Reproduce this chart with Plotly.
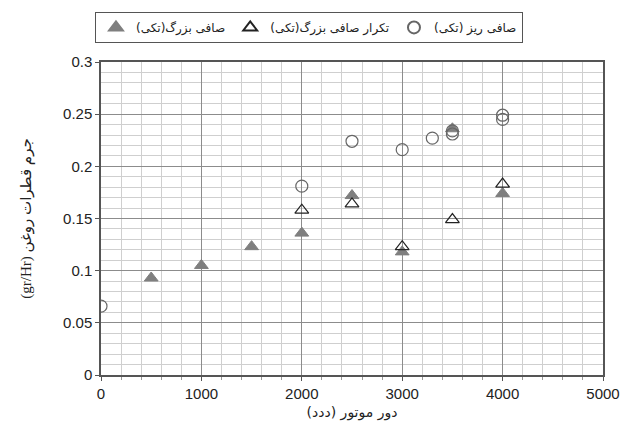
import plotly.graph_objects as go

# Data
big_x = [500, 1000, 1500, 2000, 2500, 3000, 3500, 4000]
big_y = [0.093, 0.105, 0.123, 0.136, 0.172, 0.118, 0.236, 0.174]

rep_x = [2000, 2500, 3000, 3500, 4000]
rep_y = [0.158, 0.164, 0.123, 0.149, 0.183]

fine_x = [0, 2000, 2500, 3000, 3300, 3500, 3500, 4000, 4000]
fine_y = [0.066, 0.181, 0.224, 0.216, 0.227, 0.231, 0.234, 0.245, 0.249]

RLE, PDF = "\u202b", "\u202c"

name_big = RLE + "صافی بزرگ(تکی)" + PDF
name_rep = RLE + "تکرار صافی بزرگ(تکی)" + PDF
name_fine = RLE + "صافی ریز (تکی)" + PDF

x_title = RLE + "دور موتور (ددد)" + PDF
y_title = RLE + "جرم قطرات روغن (gr/Hr)" + PDF

y_ticks = [0, 0.05, 0.1, 0.15, 0.2, 0.25, 0.3]
y_ticktext = ["0", "0.05", "0.1", "0.15", "0.2", "0.25", "0.3"]
x_ticks = [0, 1000, 2000, 3000, 4000, 5000]

fig = go.Figure()
fig.add_trace(go.Scatter(
    x=big_x, y=big_y, mode="markers", name=name_big,
    marker=dict(symbol="triangle-up", size=12, color="#7f7f7f",
                line=dict(color="#7f7f7f", width=1))))
fig.add_trace(go.Scatter(
    x=rep_x, y=rep_y, mode="markers", name=name_rep,
    marker=dict(symbol="triangle-up-open", size=12, color="#222222",
                line=dict(width=1.2))))
fig.add_trace(go.Scatter(
    x=fine_x, y=fine_y, mode="markers", name=name_fine,
    marker=dict(symbol="circle-open", size=12, color="#666666",
                line=dict(width=1.2))))

axis_common = dict(
    showline=True, linecolor="#555555", linewidth=1.5, mirror=True,
    gridcolor="#8c8c8c", gridwidth=1, zeroline=False,
    ticks="outside", ticklen=4, tickcolor="#555555",
    tickfont=dict(family="Liberation Sans, Arial", size=15, color="#222222"),
)

fig.update_xaxes(
    range=[0, 5000], tickvals=x_ticks,
    title=dict(text=x_title, font=dict(family="DejaVu Sans", size=14, color="#222222"), standoff=6),
    minor=dict(dtick=200, showgrid=True, gridcolor="#cfcfcf", gridwidth=1,
               ticks="outside", ticklen=3, tickcolor="#999999"),
    **axis_common)
fig.update_yaxes(
    range=[0, 0.3], tickvals=y_ticks, ticktext=y_ticktext,
    title=dict(text=y_title, font=dict(family="Liberation Serif, DejaVu Sans", size=15, color="#222222"), standoff=28),
    minor=dict(dtick=0.01, showgrid=True, gridcolor="#cfcfcf", gridwidth=1),
    **axis_common)

fig.update_layout(
    width=627, height=436,
    margin=dict(l=93, r=32, t=54, b=69, autoexpand=False),
    plot_bgcolor="white", paper_bgcolor="white",
    showlegend=True,
    legend=dict(
        orientation="h", x=-0.012, xanchor="left", y=1.16, yanchor="top",
        bordercolor="#555555", borderwidth=1, bgcolor="white",
        font=dict(family="DejaVu Sans", size=12, color="#222222"),
        itemsizing="constant", tracegroupgap=0,
    ),
)

fig.write_html("out.html")
